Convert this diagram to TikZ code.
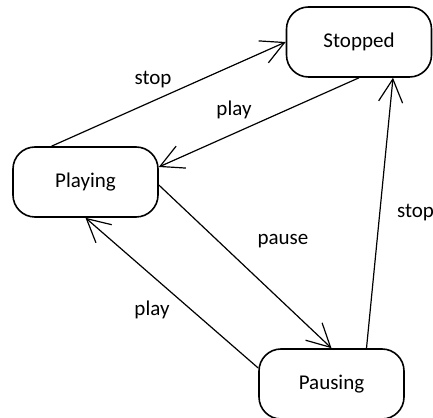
\documentclass[tikz,border=0pt]{standalone}
\usepackage{fontspec}
\setmainfont{Carlito}
\usetikzlibrary{arrows.meta,positioning}

\begin{document}
\begin{tikzpicture}[x=1pt, y=1pt, line width=1.2pt, >={Straight Barb[length=23pt,width=24pt]},
    state/.style = {draw, line width=1.6pt, rounded corners=22pt, minimum width=145pt, minimum height=70pt, font=\fontsize{21}{25}\selectfont},
    trans/.style = {font=\fontsize{21}{25}\selectfont}]
          \useasboundingbox (0,0) rectangle (433,417);
          % Define states
          \node[state] (stopped) at (359,375) {Stopped};
          \node[state] (playing) at (85.5,235) {Playing};
          \node[state] (pausing) at (331.5,33) {Pausing};
          % Add labels
          \node[trans] (stopa) at (153,337) {stop};
          \node[trans] (playa) at (234,307) {play};
          \node[trans] (pausea) at (283,176) {pause};
          \node[trans] (playb) at (152,107) {play};
          \node[trans] (stopb) at (415.5,204) {stop};
          % Add transitions
          \draw[->] ([xshift=-34pt]playing.north) -- (stopped.west);
          \draw[->] (stopped.south) -- ([yshift=15pt]playing.east);
          \draw[->] ([yshift=-3pt]playing.east) -- (pausing.north);
          \draw[->] ([yshift=16pt]pausing.west) -- (playing.south);
          \draw[->] ([xshift=35pt]pausing.north) -- ([xshift=34pt]stopped.south);
        \end{tikzpicture}
\end{document}
